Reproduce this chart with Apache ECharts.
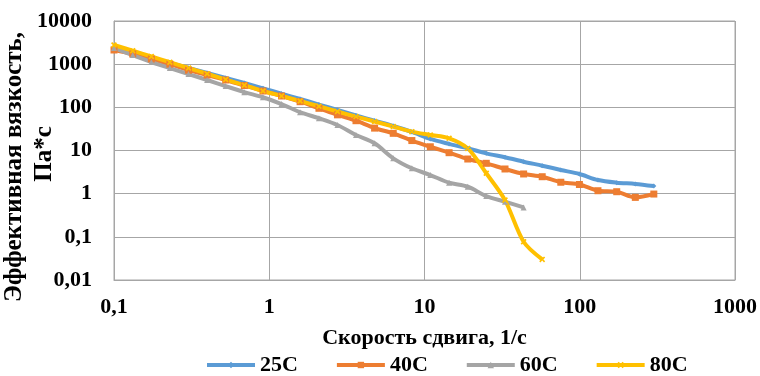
<!DOCTYPE html>
<html>
<head>
<meta charset="utf-8">
<script src="https://cdn.jsdelivr.net/npm/echarts@6/dist/echarts.min.js"></script>
<style>
  html,body{margin:0;padding:0;background:#fff}
  #chart{width:760px;height:376px}
</style>
</head>
<body>
<div id="chart"></div>
<script>
// скорость сдвига, 1/с (общая сетка точек)
const shear = [0.1, 0.132, 0.174, 0.229, 0.302, 0.398, 0.524, 0.691, 0.911, 1.2,
  1.58, 2.09, 2.75, 3.62, 4.77, 6.29, 8.29, 10.9, 14.4, 19.0,
  25.0, 33.0, 43.5, 57.3, 75.5, 99.5, 131, 173, 228, 300]

// эффективная вязкость, Па*с
const v25 = [2370, 1815, 1390, 1064, 815, 624, 478, 366, 276, 207,
  156, 116, 87, 65, 49, 37, 27, 18.5, 14.2, 11.2,
  8.6, 7.0, 5.5, 4.45, 3.54, 2.86, 2.07, 1.8, 1.68, 1.5]
const v40 = [2130, 1720, 1320, 1000, 725, 560, 430, 320, 239, 183,
  135, 95, 67, 49, 33, 25, 17, 12.2, 8.9, 6.35,
  5.05, 3.73, 2.86, 2.47, 1.84, 1.63, 1.17, 1.11, 0.82, 0.98]
const v60 = [2370, 1620, 1120, 810, 590, 430, 310, 225, 171, 119,
  77, 56, 39, 22.9, 14.7, 6.6, 3.87, 2.7, 1.8, 1.45,
  0.88, 0.65, 0.48]
const v80 = [2780, 2050, 1510, 1110, 815, 600, 440, 326, 239, 183,
  140, 106, 80, 61, 47, 36, 27.3, 22.9, 19.2, 11.2,
  2.97, 0.71, 0.077, 0.030]

const names = ['25C', '40C', '60C', '80C']
const yTitle = ['Эффективная вязкость,', 'Па*с']
const colors = ['#5B9BD5', '#ED7D31', '#A5A5A5', '#FFC000']
const FONT = 'Liberation Serif'
const GRID = '#a6a6a6'

const xMark = 'path://M2,0L5,3L8,0L10,2L7,5L10,8L8,10L5,7L2,10L0,8L3,5L0,2Z'
const symbols = ['diamond', 'rect', 'triangle', xMark]
const symSize = [5, 7, 6, 6]

const comma = v => String(v).replace('.', ',')

function ser(i, vals){
  return {
    name: names[i], type: 'line', smooth: 0.3,
    symbol: symbols[i], symbolSize: symSize[i],
    itemStyle: { color: colors[i] },
    lineStyle: { color: colors[i], width: 4 },
    data: vals.map((v, k) => [shear[k], v])
  }
}

// подпись оси Y — две строки, повернуты
function vtext(t, x, y){
  return { type: 'text', x, y, rotation: Math.PI / 2,
    style: { text: t, font: 'bold 25px "' + FONT + '"', fill: '#000', align: 'center', verticalAlign: 'middle' } }
}

const chart = echarts.init(document.getElementById('chart'))
chart.setOption({
  animation: false,
  backgroundColor: '#fff',
  grid: { left: 114, right: 25, top: 21, bottom: 96, show: true, borderColor: GRID, borderWidth: 1,
    containLabel: false, outerBoundsMode: 'none' },
  graphic: [vtext(yTitle[0], 15, 167), vtext(yTitle[1], 45, 154)],
  legend: {
    left: 200, top: 349, itemWidth: 48, itemHeight: 8, itemGap: 37,
    lineStyle: { width: 4 },
    textStyle: { fontFamily: FONT, fontWeight: 'bold', fontSize: 22, color: '#000' },
    data: names
  },
  xAxis: {
    type: 'log', logBase: 10, min: 0.1, max: 1000,
    name: 'Скорость сдвига, 1/с', nameLocation: 'middle', nameGap: 47, nameMoveOverlap: false,
    nameTextStyle: { fontFamily: FONT, fontWeight: 'bold', fontSize: 22, color: '#000' },
    axisLine: { lineStyle: { color: GRID } },
    axisTick: { show: false },
    minorTick: { show: false },
    axisLabel: { fontFamily: FONT, fontWeight: 'bold', fontSize: 22, color: '#000', margin: 16, formatter: comma },
    splitLine: { show: true, lineStyle: { color: GRID, width: 1 } }
  },
  yAxis: {
    type: 'log', logBase: 10, min: 0.01, max: 10000,
    axisLine: { show: true, lineStyle: { color: GRID } },
    axisTick: { show: false },
    axisLabel: { fontFamily: FONT, fontWeight: 'bold', fontSize: 22, color: '#000', margin: 22, formatter: comma },
    splitLine: { show: true, lineStyle: { color: GRID, width: 1 } }
  },
  series: [ser(0, v25), ser(1, v40), ser(2, v60), ser(3, v80)]
})
</script>
</body>
</html>
